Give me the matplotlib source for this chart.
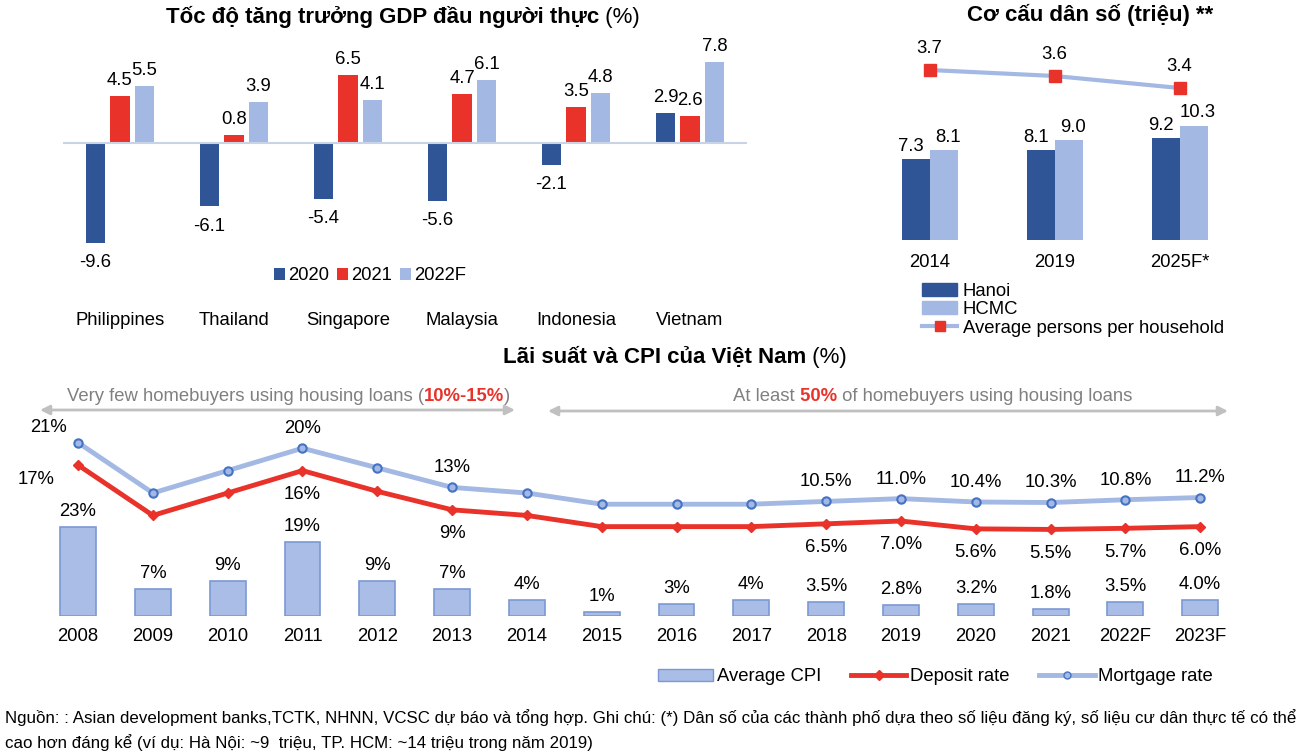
#Vietnam macro charts: GDP growth, population, rates and CPI

#importing the libraries
import numpy as np
import matplotlib
matplotlib.use('Agg')
import matplotlib.pyplot as plt
from matplotlib.patches import Patch
from matplotlib.lines import Line2D

plt.rcParams['font.family'] = ['Liberation Sans', 'DejaVu Sans']

#data - GDP per capita growth
countries = ['Philippines', 'Thailand', 'Singapore', 'Malaysia', 'Indonesia', 'Vietnam']
gdp_2020 = [-9.6, -6.1, -5.4, -5.6, -2.1, 2.9]
gdp_2021 = [4.5, 0.8, 6.5, 4.7, 3.5, 2.6]
gdp_2022f = [5.5, 3.9, 4.1, 6.1, 4.8, 7.8]

#data - population (million)
pop_years = ['2014', '2019', '2025F*']
hanoi = [7.3, 8.1, 9.2]
hcmc = [8.1, 9.0, 10.3]
persons_per_household = [3.7, 3.6, 3.4]

#data - rates and CPI
years = ['2008', '2009', '2010', '2011', '2012', '2013', '2014', '2015',
         '2016', '2017', '2018', '2019', '2020', '2021', '2022F', '2023F']
cpi = [23, 7, 9, 19, 9, 7, 4, 1, 3, 4, 3.5, 2.8, 3.2, 1.8, 3.5, 4.0]
cpi_labels = ['23%', '7%', '9%', '19%', '9%', '7%', '4%', '1%', '3%', '4%',
              '3.5%', '2.8%', '3.2%', '1.8%', '3.5%', '4.0%']
deposit = [17, 8, 12, 16, 12.3, 9, 8, 6, 6, 6, 6.5, 7.0, 5.6, 5.5, 5.7, 6.0]
mortgage = [21, 12, 16, 20, 16.5, 13, 12, 10, 10, 10, 10.5, 11.0, 10.4, 10.3, 10.8, 11.2]
rate_labelled = [0, 3, 5, 10, 11, 12, 13, 14, 15]

DARK = '#2f5597'
RED = '#e8322a'
LIGHT = '#a3b9e3'
GRAY = '#808080'
FS = 13.3
TFS = 16

fig = plt.figure(figsize=(13.03, 7.53), dpi=100)


def multicolor(ax, x0, y0, parts, size):
    #chain text pieces of different colour / weight one after another
    t = ax.text(x0, y0, parts[0][0], color=parts[0][1], fontweight=parts[0][2],
                fontsize=size, transform=fig.transFigure, va='baseline')
    for s, c, wgt in parts[1:]:
        t = ax.annotate(s, xy=(1, 0), xycoords=t, xytext=(0, 0), textcoords='offset points',
                        va='bottom', color=c, fontweight=wgt, fontsize=size,
                        annotation_clip=False)


#GDP chart
ax1 = fig.add_axes([0.0483, 0.668, 0.525, 0.2656])
x = np.arange(len(countries))
step, w = 0.215, 0.17
for off, vals, col, lab in [(-step, gdp_2020, DARK, '2020'),
                            (0, gdp_2021, RED, '2021'),
                            (step, gdp_2022f, LIGHT, '2022F')]:
    bars = ax1.bar(x + off, vals, w, color=col, label=lab)
    for b, v in zip(bars, vals):
        if v >= 0:
            ax1.annotate(f'{v:.1f}', (b.get_x() + b.get_width() / 2, v), xytext=(0, 5),
                         textcoords='offset points', ha='center', va='bottom', fontsize=FS)
        else:
            ax1.annotate(f'{v:.1f}', (b.get_x() + b.get_width() / 2, v), xytext=(0, -8),
                         textcoords='offset points', ha='center', va='top', fontsize=FS)
ax1.axhline(0, color='#c9d3e6', lw=1.5)
ax1.set_xlim(-0.5, len(countries) - 0.5)
ax1.set_ylim(-10.29, 8.94)
ax1.set_xticks(x)
ax1.set_xticklabels(countries, fontsize=FS)
ax1.tick_params(axis='x', length=0, pad=45)
ax1.set_yticks([])
for s in ax1.spines.values():
    s.set_visible(False)
ax1.legend(loc='center', bbox_to_anchor=(0.449, -0.13), ncol=3, frameon=False,
           fontsize=FS, handlelength=0.6, handleheight=0.6, handletextpad=0.2,
           columnspacing=0.4)
multicolor(ax1, 166 / 1303, 1 - 23 / 753, [('Tốc độ tăng trưởng GDP đầu người thực', 'black', 'bold'),
                                           (' (%)', 'black', 'normal')], TFS)

#population chart
ax2 = fig.add_axes([0.6654, 0.6813, 0.2878, 0.2656])
px = np.arange(len(pop_years))
pw = 0.224
b1 = ax2.bar(px - pw / 2, hanoi, pw, color=DARK, label='Hanoi')
b2 = ax2.bar(px + pw / 2, hcmc, pw, color=LIGHT, label='HCMC')
for bars, vals, dx in [(b1, hanoi, -3), (b2, hcmc, 3)]:
    for b, v in zip(bars, vals):
        ax2.annotate(f'{v:.1f}', (b.get_x() + b.get_width() / 2, v), xytext=(dx, 3),
                     textcoords='offset points', ha='center', va='bottom', fontsize=FS)
ax2.set_xlim(-0.5, len(pop_years) - 0.5)
ax2.set_ylim(0, 18)
ax2.set_xticks(px)
ax2.set_xticklabels(pop_years, fontsize=FS)
ax2.tick_params(axis='x', length=0, pad=10)
ax2.set_yticks([])
for s in ax2.spines.values():
    s.set_visible(False)
ax2b = ax2.twinx()
ax2b.plot(px, persons_per_household, color=LIGHT, lw=3, marker='s', markersize=8,
          markerfacecolor=RED, markeredgecolor=RED, label='Average persons per household')
for xi, v in zip(px, persons_per_household):
    ax2b.annotate(f'{v:.1f}', (xi, v), xytext=(0, 9), textcoords='offset points',
                  ha='center', va='bottom', fontsize=FS)
ax2b.set_ylim(0.867, 4.2)
ax2b.set_yticks([])
for s in ax2b.spines.values():
    s.set_visible(False)
pop_handles = [Patch(color=DARK), Patch(color=LIGHT),
               Line2D([], [], color=LIGHT, lw=3, marker='s', markersize=7,
                      markerfacecolor=RED, markeredgecolor=RED)]
fig.legend(pop_handles, ['Hanoi', 'HCMC', 'Average persons per household'],
           loc='upper left', bbox_to_anchor=(0.7076, 0.624), frameon=False,
           fontsize=FS, handlelength=1.9, handletextpad=0.3, labelspacing=0.07,
           borderpad=0, borderaxespad=0)
fig.text(0.837, 0.980, 'Cơ cấu dân số (triệu) **', fontsize=TFS, fontweight='bold',
         ha='center', va='center')

#rates and CPI chart
ax3 = fig.add_axes([0.0312, 0.182, 0.9186, 0.2537])
yx = np.arange(len(years))
ax3b = ax3.twinx()
ax3.set_zorder(ax3b.get_zorder() + 1)
ax3.patch.set_visible(False)
cpi_bars = ax3b.bar(yx, cpi, 0.48, color='#a9bde6', edgecolor='#7b98d4', lw=1.2)
for b, v, lab in zip(cpi_bars, cpi, cpi_labels):
    ax3b.annotate(lab, (b.get_x() + b.get_width() / 2, v), xytext=(0, 5),
                  textcoords='offset points', ha='center', va='bottom', fontsize=FS)
ax3b.set_ylim(0, 49.2)
ax3.plot(yx, mortgage, color=LIGHT, lw=3.5, marker='o', markersize=6,
         markerfacecolor=LIGHT, markeredgecolor='#4472c4', markeredgewidth=1.5)
ax3.plot(yx, deposit, color=RED, lw=3.5, marker='D', markersize=5,
         markerfacecolor=RED, markeredgecolor=RED)
for i in rate_labelled:
    mdx, mdy, ddx, ddy = (0, 8, 0, -11) if i else (-21, 5, -30, -4)
    ax3.annotate(f'{mortgage[i]:.0f}%' if i < 10 else f'{mortgage[i]:.1f}%',
                 (yx[i], mortgage[i]), xytext=(mdx, mdy), textcoords='offset points',
                 ha='center', va='bottom', fontsize=FS)
    ax3.annotate(f'{deposit[i]:.0f}%' if i < 10 else f'{deposit[i]:.1f}%',
                 (yx[i], deposit[i]), xytext=(ddx, ddy), textcoords='offset points',
                 ha='center', va='top', fontsize=FS)
ax3.set_ylim(-9.95, 24.16)
ax3.set_xlim(-0.5, len(years) - 0.5)
ax3.set_xticks(yx)
ax3.set_xticklabels(years, fontsize=FS)
ax3.tick_params(axis='x', length=0, pad=9)
ax3.set_yticks([])
ax3b.set_yticks([])
for a in (ax3, ax3b):
    for s in a.spines.values():
        s.set_visible(False)
multicolor(ax3, 503 / 1303, 1 - 363 / 753, [('Lãi suất và CPI của Việt Nam', 'black', 'bold'),
                                            (' (%)', 'black', 'normal')], TFS)

#arrows with notes
multicolor(ax3, 67 / 1303, 1 - 401 / 753, [('Very few homebuyers using housing loans (', GRAY, 'normal'),
                                           ('10%-15%', RED, 'bold'), (')', GRAY, 'normal')], FS)
multicolor(ax3, 733 / 1303, 1 - 401 / 753, [('At least', GRAY, 'normal'), (' 50%', RED, 'bold'),
                                            (' of homebuyers using housing loans', GRAY, 'normal')], FS)
arrow = dict(arrowstyle='<|-|>', color='#c0c0c0', lw=2, mutation_scale=14, shrinkA=0, shrinkB=0)
ax3.annotate('', xy=(40 / 1303, 1 - 410 / 753), xytext=(515 / 1303, 1 - 410 / 753),
             xycoords='figure fraction', textcoords='figure fraction', arrowprops=arrow)
ax3.annotate('', xy=(548 / 1303, 1 - 411 / 753), xytext=(1228 / 1303, 1 - 411 / 753),
             xycoords='figure fraction', textcoords='figure fraction', arrowprops=arrow)

rate_handles = [Patch(facecolor='#a9bde6', edgecolor='#7b98d4'),
                Line2D([], [], color=RED, lw=3.5, marker='D', markersize=5),
                Line2D([], [], color=LIGHT, lw=3.5, marker='o', markersize=5,
                       markerfacecolor=LIGHT, markeredgecolor='#4472c4')]
fig.legend(rate_handles, ['Average CPI', 'Deposit rate', 'Mortgage rate'], loc='center',
           bbox_to_anchor=(0.718, 0.101), ncol=3, frameon=False, fontsize=FS,
           handlelength=3.0, handletextpad=0.2, columnspacing=1.6)

#source note
fig.text(0.004, 1 - 718 / 753, 'Nguồn: : Asian development banks,TCTK, NHNN, VCSC dự báo và tổng hợp. '
         'Ghi chú: (*) Dân số của các thành phố dựa theo số liệu đăng ký, số liệu cư dân thực tế có thể',
         fontsize=12.2, va='center', ha='left')
fig.text(0.004, 1 - 743 / 753, 'cao hơn đáng kể (ví dụ: Hà Nội: ~9  triệu, TP. HCM: ~14 triệu trong năm 2019)',
         fontsize=12.2, va='center', ha='left')

plt.savefig('out.png', dpi=100)
